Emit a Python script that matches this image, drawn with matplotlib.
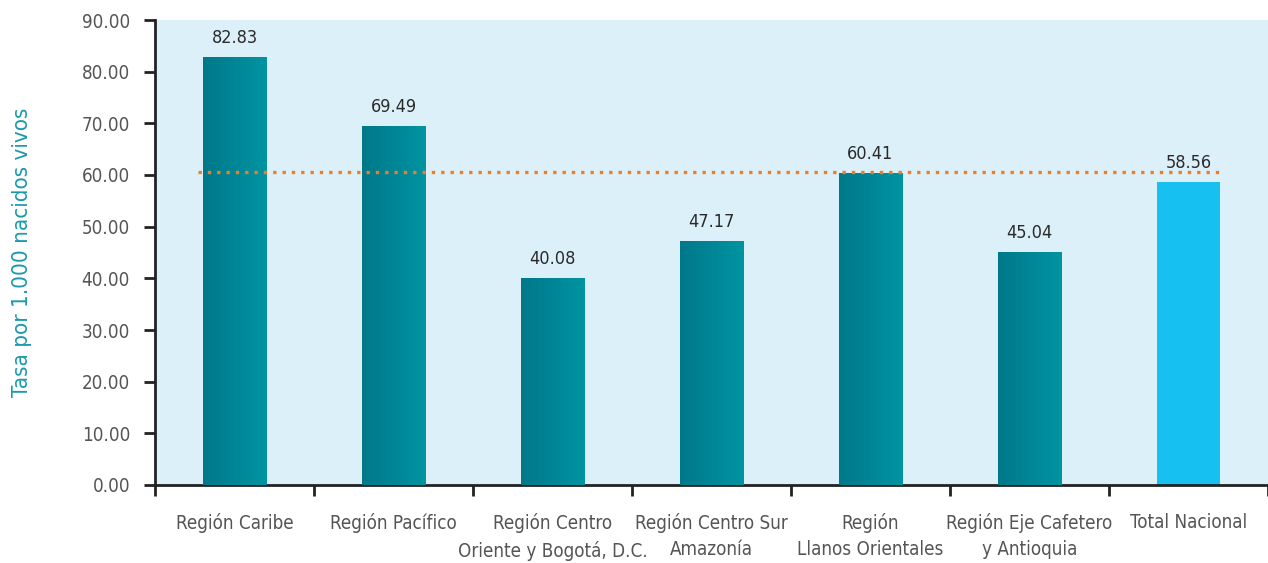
import matplotlib
matplotlib.use("Agg")
import matplotlib.pyplot as plt
import numpy as np
from matplotlib.colors import LinearSegmentedColormap

categories = ["Región Caribe", "Región Pacífico", "Región Centro\nOriente y Bogotá, D.C.",
              "Región Centro Sur\nAmazonía", "Región\nLlanos Orientales",
              "Región Eje Cafetero\ny Antioquia", "Total Nacional"]
values = [82.83, 69.49, 40.08, 47.17, 60.41, 45.04, 58.56]
reference_line = 60.6
yticks = [0, 10, 20, 30, 40, 50, 60, 70, 80, 90]

plt.rcParams['font.family'] = ['DejaVu Sans']
plt.rcParams['font.stretch'] = 'condensed'

fig = plt.figure(figsize=(12.68, 5.63), dpi=100)
ax = fig.add_axes([155/1268, 1-485/563, (1268-155)/1268, (485-20)/563])
ax.set_facecolor('#dcf0fa')

x = np.arange(len(categories))
width = 0.4
bars = ax.bar(x, values, width=width, color=['#00838f']*6 + ['#16c0f0'], zorder=2)

grad = np.linspace(0, 1, 256).reshape(1, -1)
cmap = LinearSegmentedColormap.from_list('teal', ['#00788a', '#0094a2'])
for b in bars[:-1]:
    x0, w, h = b.get_x(), b.get_width(), b.get_height()
    im = ax.imshow(grad, cmap=cmap, aspect='auto', extent=[x0, x0 + w, 0, h], zorder=3)
    im.set_clip_path(b)

ax.plot([x[0] - 0.23, x[-1] + 0.2], [reference_line, reference_line], linestyle=(0, (1, 1.8)),
        color='#f07d22', linewidth=2.4, zorder=4)

for xi, v in zip(x, values):
    ax.text(xi, v + 2.0, f"{v:.2f}", ha='center', va='bottom', fontsize=13, color='#2a2a2a', zorder=5)

ax.set_xlim(-0.5, len(categories) - 0.5)
ax.set_ylim(0, 90)
ax.set_yticks(yticks)
ax.set_yticklabels([f"{t:.2f}" for t in yticks], fontsize=13.5, color='#555555')
ax.set_xticks(x)
ax.set_xticklabels(categories, fontsize=13.5, color='#555555', linespacing=1.5)
ax.tick_params(axis='x', length=0, pad=20)
ax.set_xticks(np.arange(len(categories) + 1) - 0.5, minor=True)
ax.tick_params(axis='x', which='minor', length=8, width=2, color='#222222', direction='out')
ax.tick_params(axis='y', length=8, width=2, color='#222222', direction='out', pad=10)

for s in ['top', 'right']:
    ax.spines[s].set_visible(False)
for s in ['left', 'bottom']:
    ax.spines[s].set_linewidth(2)
    ax.spines[s].set_color('#222222')

ax.set_ylabel("Tasa por 1.000 nacidos vivos", fontsize=16, color='#1a9aaa', labelpad=36)

fig.savefig("out.png", dpi=100)
